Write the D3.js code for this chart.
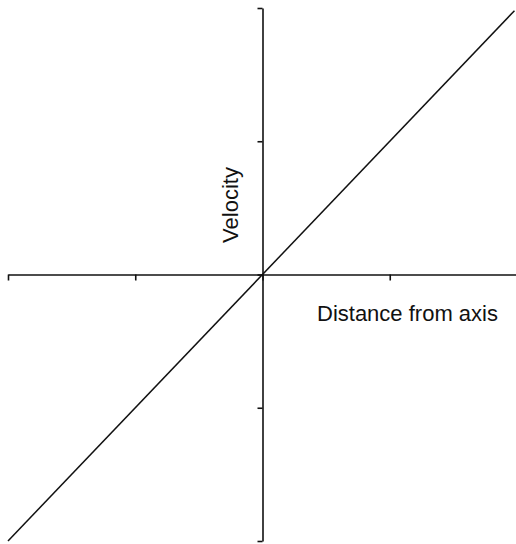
<!DOCTYPE html>
<html>
<head>
<meta charset="utf-8">
<script src="https://cdn.jsdelivr.net/npm/d3@7"></script>
<style>
  html, body { margin: 0; padding: 0; background: #fff; }
  svg { display: block; }
  text { font-family: "Liberation Sans", Arial, sans-serif; fill: #111; }
</style>
</head>
<body>
<div id="chart"></div>
<script>
// Velocity vs distance from axis
const lineX = [-1, 0.99];
const lineY = [-1, 0.99];
const xTicks = [-1, -0.5, 0, 0.5, 1];
const yTicks = [-1, -0.5, 0, 0.5, 1];
const xLabel = 'Distance from axis';
const yLabel = 'Velocity';

const width = 516, height = 544;
const x = d3.scaleLinear().domain([-1, 1]).range([8, 517]);
const y = d3.scaleLinear().domain([-1, 1]).range([541, 8]);

const svg = d3.select('#chart').append('svg')
  .attr('width', width)
  .attr('height', height);

// horizontal axis through y = 0
svg.append('g')
  .attr('transform', `translate(0,${y(0)})`)
  .call(d3.axisBottom(x).tickValues(xTicks).tickSize(6).tickSizeOuter(0).tickFormat(''));

// vertical axis through x = 0
svg.append('g')
  .attr('transform', `translate(${x(0)},0)`)
  .call(d3.axisLeft(y).tickValues(yTicks).tickSize(5).tickSizeOuter(0).tickFormat(''));

svg.selectAll('.domain, .tick line')
  .attr('stroke', '#111')
  .attr('stroke-width', 1.6);

// diagonal
svg.append('path')
  .datum(d3.zip(lineX, lineY))
  .attr('fill', 'none')
  .attr('stroke', '#111')
  .attr('stroke-width', 1.5)
  .attr('d', d3.line().x(d => x(d[0])).y(d => y(d[1])));

svg.append('text')
  .attr('x', 317)
  .attr('y', 321)
  .attr('font-size', 22)
  .text(xLabel);

svg.append('text')
  .attr('transform', 'translate(238,205) rotate(-90)')
  .attr('text-anchor', 'middle')
  .attr('font-size', 22)
  .text(yLabel);
</script>
</body>
</html>
